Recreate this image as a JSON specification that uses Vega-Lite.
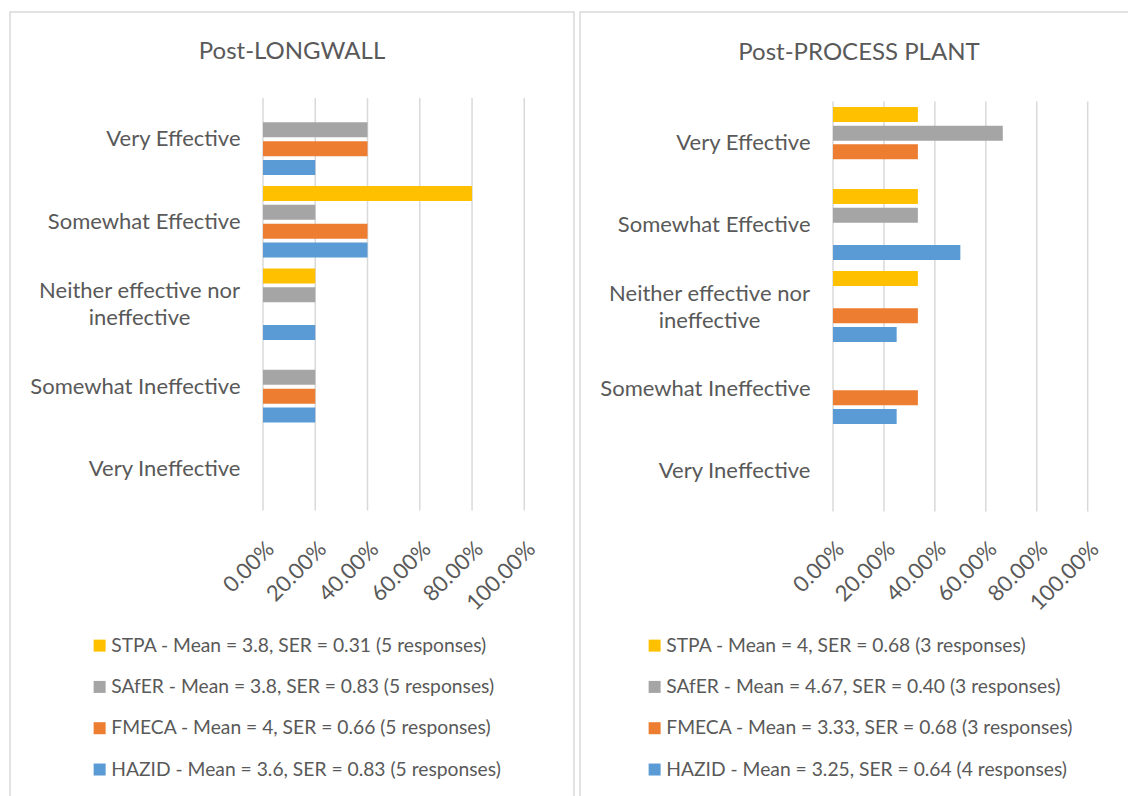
{
  "$schema": "https://vega.github.io/schema/vega-lite/v6.json",
  "padding": {"left": 9, "top": 11, "right": 0, "bottom": 0},
  "background": "white",
  "spacing": 4,
  "datasets": {
    "grid": [{"g": 0}, {"g": 0.2}, {"g": 0.4}, {"g": 0.6}, {"g": 0.8}, {"g": 1}],
    "longwall": [
      {"category": "Very Effective", "method": "STPA", "series": "STPA - Mean = 3.8, SER = 0.31 (5 responses)", "pct": 0},
      {"category": "Very Effective", "method": "SAfER", "series": "SAfER - Mean = 3.8, SER = 0.83 (5 responses)", "pct": 0.4},
      {"category": "Very Effective", "method": "FMECA", "series": "FMECA - Mean = 4, SER = 0.66 (5 responses)", "pct": 0.4},
      {"category": "Very Effective", "method": "HAZID", "series": "HAZID - Mean = 3.6, SER = 0.83 (5 responses)", "pct": 0.2},
      {"category": "Somewhat Effective", "method": "STPA", "series": "STPA - Mean = 3.8, SER = 0.31 (5 responses)", "pct": 0.8},
      {"category": "Somewhat Effective", "method": "SAfER", "series": "SAfER - Mean = 3.8, SER = 0.83 (5 responses)", "pct": 0.2},
      {"category": "Somewhat Effective", "method": "FMECA", "series": "FMECA - Mean = 4, SER = 0.66 (5 responses)", "pct": 0.4},
      {"category": "Somewhat Effective", "method": "HAZID", "series": "HAZID - Mean = 3.6, SER = 0.83 (5 responses)", "pct": 0.4},
      {"category": "Neither effective nor ineffective", "method": "STPA", "series": "STPA - Mean = 3.8, SER = 0.31 (5 responses)", "pct": 0.2},
      {"category": "Neither effective nor ineffective", "method": "SAfER", "series": "SAfER - Mean = 3.8, SER = 0.83 (5 responses)", "pct": 0.2},
      {"category": "Neither effective nor ineffective", "method": "FMECA", "series": "FMECA - Mean = 4, SER = 0.66 (5 responses)", "pct": 0},
      {"category": "Neither effective nor ineffective", "method": "HAZID", "series": "HAZID - Mean = 3.6, SER = 0.83 (5 responses)", "pct": 0.2},
      {"category": "Somewhat Ineffective", "method": "STPA", "series": "STPA - Mean = 3.8, SER = 0.31 (5 responses)", "pct": 0},
      {"category": "Somewhat Ineffective", "method": "SAfER", "series": "SAfER - Mean = 3.8, SER = 0.83 (5 responses)", "pct": 0.2},
      {"category": "Somewhat Ineffective", "method": "FMECA", "series": "FMECA - Mean = 4, SER = 0.66 (5 responses)", "pct": 0.2},
      {"category": "Somewhat Ineffective", "method": "HAZID", "series": "HAZID - Mean = 3.6, SER = 0.83 (5 responses)", "pct": 0.2},
      {"category": "Very Ineffective", "method": "STPA", "series": "STPA - Mean = 3.8, SER = 0.31 (5 responses)", "pct": 0},
      {"category": "Very Ineffective", "method": "SAfER", "series": "SAfER - Mean = 3.8, SER = 0.83 (5 responses)", "pct": 0},
      {"category": "Very Ineffective", "method": "FMECA", "series": "FMECA - Mean = 4, SER = 0.66 (5 responses)", "pct": 0},
      {"category": "Very Ineffective", "method": "HAZID", "series": "HAZID - Mean = 3.6, SER = 0.83 (5 responses)", "pct": 0}
    ],
    "plant": [
      {"category": "Very Effective", "method": "STPA", "series": "STPA - Mean = 4, SER = 0.68 (3 responses)", "pct": 0.3333},
      {"category": "Very Effective", "method": "SAfER", "series": "SAfER - Mean = 4.67, SER = 0.40 (3 responses)", "pct": 0.6667},
      {"category": "Very Effective", "method": "FMECA", "series": "FMECA - Mean = 3.33, SER = 0.68 (3 responses)", "pct": 0.3333},
      {"category": "Very Effective", "method": "HAZID", "series": "HAZID - Mean = 3.25, SER = 0.64 (4 responses)", "pct": 0},
      {"category": "Somewhat Effective", "method": "STPA", "series": "STPA - Mean = 4, SER = 0.68 (3 responses)", "pct": 0.3333},
      {"category": "Somewhat Effective", "method": "SAfER", "series": "SAfER - Mean = 4.67, SER = 0.40 (3 responses)", "pct": 0.3333},
      {"category": "Somewhat Effective", "method": "FMECA", "series": "FMECA - Mean = 3.33, SER = 0.68 (3 responses)", "pct": 0},
      {"category": "Somewhat Effective", "method": "HAZID", "series": "HAZID - Mean = 3.25, SER = 0.64 (4 responses)", "pct": 0.5},
      {"category": "Neither effective nor ineffective", "method": "STPA", "series": "STPA - Mean = 4, SER = 0.68 (3 responses)", "pct": 0.3333},
      {"category": "Neither effective nor ineffective", "method": "SAfER", "series": "SAfER - Mean = 4.67, SER = 0.40 (3 responses)", "pct": 0},
      {"category": "Neither effective nor ineffective", "method": "FMECA", "series": "FMECA - Mean = 3.33, SER = 0.68 (3 responses)", "pct": 0.3333},
      {"category": "Neither effective nor ineffective", "method": "HAZID", "series": "HAZID - Mean = 3.25, SER = 0.64 (4 responses)", "pct": 0.25},
      {"category": "Somewhat Ineffective", "method": "STPA", "series": "STPA - Mean = 4, SER = 0.68 (3 responses)", "pct": 0},
      {"category": "Somewhat Ineffective", "method": "SAfER", "series": "SAfER - Mean = 4.67, SER = 0.40 (3 responses)", "pct": 0},
      {"category": "Somewhat Ineffective", "method": "FMECA", "series": "FMECA - Mean = 3.33, SER = 0.68 (3 responses)", "pct": 0.3333},
      {"category": "Somewhat Ineffective", "method": "HAZID", "series": "HAZID - Mean = 3.25, SER = 0.64 (4 responses)", "pct": 0.25},
      {"category": "Very Ineffective", "method": "STPA", "series": "STPA - Mean = 4, SER = 0.68 (3 responses)", "pct": 0},
      {"category": "Very Ineffective", "method": "SAfER", "series": "SAfER - Mean = 4.67, SER = 0.40 (3 responses)", "pct": 0},
      {"category": "Very Ineffective", "method": "FMECA", "series": "FMECA - Mean = 3.33, SER = 0.68 (3 responses)", "pct": 0},
      {"category": "Very Ineffective", "method": "HAZID", "series": "HAZID - Mean = 3.25, SER = 0.64 (4 responses)", "pct": 0}
    ]
  },
  "hconcat": [
    {
      "width": 564,
      "height": 800,
      "title": {"text": "Post-LONGWALL", "fontSize": 24, "fontWeight": "normal", "color": "#595959", "anchor": "middle", "frame": "group", "offset": -71, "baseline": "alphabetic"},
      "layer": [
        {
          "data": {"name": "grid"},
          "mark": {"type": "rule", "color": "#d9d9d9", "strokeWidth": 1.5},
          "encoding": {
            "x": {"field": "g", "type": "quantitative", "scale": {"domain": [-0.9682, 1.1902], "nice": false, "zero": false},
                  "axis": {"values": [0, 0.2, 0.4, 0.6, 0.8, 1], "format": ".2%", "labelAngle": -45, "labelOverlap": false, "grid": false, "domain": false, "ticks": false, "tickSize": 0, "labelPadding": 27, "labelDx": 1, "labelDy": 2, "offset": -301, "title": null, "labelFontSize": 22, "labelColor": "#595959"}},
            "y": {"datum": "Very Effective", "type": "nominal", "bandPosition": 0,
                  "axis": {"title": null, "domain": false, "ticks": false, "tickSize": 0, "offset": -253, "labelFontSize": 22, "labelColor": "#595959", "labelLimit": 400, "labelLineHeight": 27,
                           "labelPadding": {"condition": {"test": "datum.value == 'Neither effective nor ineffective'", "value": 124}, "value": 23},
                           "labelAlign": {"condition": {"test": "datum.value == 'Neither effective nor ineffective'", "value": "center"}, "value": "right"},
                           "labelOffset": {"condition": {"test": "datum.value == 'Neither effective nor ineffective'", "value": -13}, "value": 0},
                           "labelExpr": "datum.value == 'Neither effective nor ineffective' ? ['Neither effective nor', 'ineffective'] : datum.value"}},
            "y2": {"datum": "Very Ineffective", "bandPosition": 1}
          }
        },
        {
          "data": {"name": "longwall"},
          "mark": {"type": "bar"},
          "encoding": {
            "x": {"field": "pct", "type": "quantitative",
                  "axis": {"values": [0, 0.2, 0.4, 0.6, 0.8, 1], "format": ".2%", "labelAngle": -45, "labelOverlap": false, "grid": false, "domain": false, "ticks": false, "tickSize": 0, "labelPadding": 27, "labelDx": 1, "labelDy": 2, "offset": -301, "title": null, "labelFontSize": 22, "labelColor": "#595959"}},
            "x2": {"datum": 0},
            "y": {"field": "category", "type": "nominal",
                  "scale": {"domain": ["Very Effective", "Somewhat Effective", "Neither effective nor ineffective", "Somewhat Ineffective", "Very Ineffective"], "range": [86, 498.5], "paddingInner": 0, "paddingOuter": 0},
                  "axis": {"title": null, "domain": false, "ticks": false, "tickSize": 0, "offset": -253, "labelFontSize": 22, "labelColor": "#595959", "labelLimit": 400, "labelLineHeight": 27,
                           "labelPadding": {"condition": {"test": "datum.value == 'Neither effective nor ineffective'", "value": 124}, "value": 23},
                           "labelAlign": {"condition": {"test": "datum.value == 'Neither effective nor ineffective'", "value": "center"}, "value": "right"},
                           "labelOffset": {"condition": {"test": "datum.value == 'Neither effective nor ineffective'", "value": -13}, "value": 0},
                           "labelExpr": "datum.value == 'Neither effective nor ineffective' ? ['Neither effective nor', 'ineffective'] : datum.value"}},
            "yOffset": {"field": "method", "type": "nominal", "scale": {"domain": ["STPA", "SAfER", "FMECA", "HAZID"], "paddingInner": 0.2, "paddingOuter": 0.294}},
            "color": {"field": "series", "type": "nominal",
                      "scale": {"domain": ["STPA - Mean = 3.8, SER = 0.31 (5 responses)", "SAfER - Mean = 3.8, SER = 0.83 (5 responses)", "FMECA - Mean = 4, SER = 0.66 (5 responses)", "HAZID - Mean = 3.6, SER = 0.83 (5 responses)"],
                                "range": ["#FFC000", "#A5A5A5", "#ED7D31", "#5B9BD5"]},
                      "legend": {"orient": "none", "legendX": 80, "legendY": 624, "title": null, "direction": "vertical", "padding": 0, "symbolType": "square", "symbolSize": 144, "symbolStrokeWidth": 0, "labelFontSize": 19.25, "labelColor": "#595959", "labelLimit": 600, "rowPadding": 21.3, "labelOffset": 2}}
          }
        }
      ]
    },
    {
      "width": 558,
      "height": 800,
      "title": {"text": "Post-PROCESS PLANT", "fontSize": 24, "fontWeight": "normal", "color": "#595959", "anchor": "middle", "frame": "group", "offset": -72, "baseline": "alphabetic"},
      "layer": [
        {
          "data": {"name": "grid"},
          "mark": {"type": "rule", "color": "#d9d9d9", "strokeWidth": 1.5},
          "encoding": {
            "x": {"field": "g", "type": "quantitative", "scale": {"domain": [-0.9933, 1.1975], "nice": false, "zero": false},
                  "axis": {"values": [0, 0.2, 0.4, 0.6, 0.8, 1], "format": ".2%", "labelAngle": -45, "labelOverlap": false, "grid": false, "domain": false, "ticks": false, "tickSize": 0, "labelPadding": 27, "labelDx": 1, "labelDy": 2, "offset": -301, "title": null, "labelFontSize": 22, "labelColor": "#595959"}},
            "y": {"datum": "Very Effective", "type": "nominal", "bandPosition": 0,
                  "axis": {"title": null, "domain": false, "ticks": false, "tickSize": 0, "offset": -253, "labelFontSize": 22, "labelColor": "#595959", "labelLimit": 400, "labelLineHeight": 27,
                           "labelPadding": {"condition": {"test": "datum.value == 'Neither effective nor ineffective'", "value": 124}, "value": 23},
                           "labelAlign": {"condition": {"test": "datum.value == 'Neither effective nor ineffective'", "value": "center"}, "value": "right"},
                           "labelOffset": {"condition": {"test": "datum.value == 'Neither effective nor ineffective'", "value": -13}, "value": 0},
                           "labelExpr": "datum.value == 'Neither effective nor ineffective' ? ['Neither effective nor', 'ineffective'] : datum.value"}},
            "y2": {"datum": "Very Ineffective", "bandPosition": 1}
          }
        },
        {
          "data": {"name": "plant"},
          "mark": {"type": "bar"},
          "encoding": {
            "x": {"field": "pct", "type": "quantitative",
                  "axis": {"values": [0, 0.2, 0.4, 0.6, 0.8, 1], "format": ".2%", "labelAngle": -45, "labelOverlap": false, "grid": false, "domain": false, "ticks": false, "tickSize": 0, "labelPadding": 27, "labelDx": 1, "labelDy": 2, "offset": -301, "title": null, "labelFontSize": 22, "labelColor": "#595959"}},
            "x2": {"datum": 0},
            "y": {"field": "category", "type": "nominal",
                  "scale": {"domain": ["Very Effective", "Somewhat Effective", "Neither effective nor ineffective", "Somewhat Ineffective", "Very Ineffective"], "range": [89.5, 499.5], "paddingInner": 0, "paddingOuter": 0},
                  "axis": {"title": null, "domain": false, "ticks": false, "tickSize": 0, "offset": -253, "labelFontSize": 22, "labelColor": "#595959", "labelLimit": 400, "labelLineHeight": 27,
                           "labelPadding": {"condition": {"test": "datum.value == 'Neither effective nor ineffective'", "value": 124}, "value": 23},
                           "labelAlign": {"condition": {"test": "datum.value == 'Neither effective nor ineffective'", "value": "center"}, "value": "right"},
                           "labelOffset": {"condition": {"test": "datum.value == 'Neither effective nor ineffective'", "value": -13}, "value": 0},
                           "labelExpr": "datum.value == 'Neither effective nor ineffective' ? ['Neither effective nor', 'ineffective'] : datum.value"}},
            "yOffset": {"field": "method", "type": "nominal", "scale": {"domain": ["STPA", "SAfER", "FMECA", "HAZID"], "paddingInner": 0.2, "paddingOuter": 0.294}},
            "color": {"field": "series", "type": "nominal",
                      "scale": {"domain": ["STPA - Mean = 4, SER = 0.68 (3 responses)", "SAfER - Mean = 4.67, SER = 0.40 (3 responses)", "FMECA - Mean = 3.33, SER = 0.68 (3 responses)", "HAZID - Mean = 3.25, SER = 0.64 (4 responses)"],
                                "range": ["#FFC000", "#A5A5A5", "#ED7D31", "#5B9BD5"]},
                      "legend": {"orient": "none", "legendX": 65, "legendY": 624, "title": null, "direction": "vertical", "padding": 0, "symbolType": "square", "symbolSize": 144, "symbolStrokeWidth": 0, "labelFontSize": 19.25, "labelColor": "#595959", "labelLimit": 600, "rowPadding": 21.3, "labelOffset": 2}}
          }
        }
      ]
    }
  ],
  "resolve": {"scale": {"color": "independent", "x": "independent", "y": "independent", "yOffset": "independent"}, "legend": {"color": "independent"}},
  "config": {
    "font": "Lato",
    "view": {"stroke": "#d9d9d9", "strokeWidth": 1.5}
  }
}
